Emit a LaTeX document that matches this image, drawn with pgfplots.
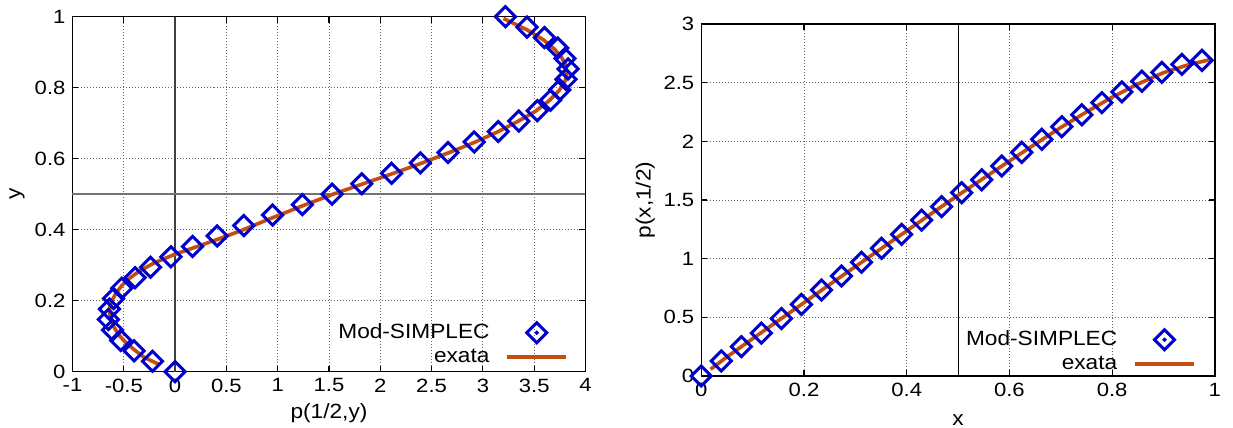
\documentclass[border=0pt]{standalone}
\usepackage{fontspec}
\setmainfont[FakeStretch=1.1]{Liberation Sans}
\newfontfamily\tickfont[FakeStretch=1.15]{Liberation Sans}
\usepackage{pgfplots}
\pgfplotsset{compat=1.18}
\definecolor{mblue}{RGB}{0,0,204}
\definecolor{morange}{RGB}{197,77,15}
\pgfplotsset{
  gpstyle/.style={
    scale only axis,
    font=\fontsize{10.3}{12}\selectfont,
    tick label style={font=\tickfont\fontsize{9.6}{11}\selectfont},
    /pgf/number format/assume math mode=true,
    grid=major,
    major grid style={black!60, dash pattern=on 0.5pt off 1pt, line width=0.45pt},
    axis line style={line width=0.75pt},
    tick style={black, line width=0.6pt},
    major tick length=3pt,
    clip=false,
    legend plot pos=right,
    legend cell align=right,
    legend style={draw=none, fill=none, inner sep=0pt, outer sep=0pt,
      font=\fontsize{10.3}{12}\selectfont,
      nodes={inner sep=0pt, outer sep=0pt, text height=8pt, text depth=2.5pt},
      /tikz/column sep=8pt, /tikz/row sep=1pt},
  },
  markstyle/.style={only marks, mblue, mark=square, mark size=3.55pt,
    mark options={rotate=45, line width=1.5pt, solid},
    legend image code/.code={
      \path (0pt,-3pt) (29.5pt,3pt);
      \draw[mblue, line width=1.5pt] (14.75pt,5pt) -- (19.75pt,0pt) -- (14.75pt,-5pt) -- (9.75pt,0pt) -- cycle;
      \fill[mblue] (14.75pt,0pt) circle (0.9pt);
    }},
  linestyle/.style={morange, line width=1.8pt, no marks,
    legend image code/.code={\draw[morange, line width=1.8pt] (0pt,0pt) -- (29.5pt,0pt);}},
}
\begin{document}
\begin{tikzpicture}
\path[use as bounding box] (0,0) rectangle (616.5pt,214pt);
% ---------------- left panel
\begin{axis}[gpstyle,
  at={(36.25pt,28.15pt)}, anchor=south west,
  width=256.5pt, height=177.5pt,
  xmin=-1, xmax=4, ymin=0, ymax=1,
  xtick={-1,-0.5,0,0.5,1,1.5,2,2.5,3,3.5,4},
  ytick={0,0.2,0.4,0.6,0.8,1},
  xlabel={p(1/2,y)}, ylabel={y},
  xlabel style={at={(axis description cs:0.5,0)}, anchor=base, yshift=-23.2pt},
  ylabel style={at={(axis description cs:0,0.5)}, anchor=center, yshift=27.75pt},
  legend style={at={(1,0)}, anchor=south east, xshift=-8.7pt, yshift=2.2pt},
]
\addplot[black!75, line width=0.6pt, forget plot] coordinates {(0,0) (0,1)};
\addplot[black!55, line width=0.9pt, forget plot] coordinates {(-1,0.5) (4,0.5)};
\addplot[markstyle] table {
x y
0.00 0.00000
-0.22 0.02941
-0.40 0.05882
-0.53 0.08824
-0.61 0.11765
-0.65 0.14706
-0.64 0.17647
-0.60 0.20588
-0.52 0.23529
-0.39 0.26471
-0.24 0.29412
-0.04 0.32353
0.17 0.35294
0.41 0.38235
0.67 0.41176
0.95 0.44118
1.24 0.47059
1.53 0.50000
1.82 0.52941
2.11 0.55882
2.39 0.58824
2.66 0.61765
2.915 0.64706
3.15 0.67647
3.35 0.70588
3.53 0.73529
3.66 0.76471
3.75 0.79412
3.81 0.82353
3.83 0.85294
3.80 0.88235
3.73 0.91176
3.60 0.94118
3.43 0.97059
3.22 1.00000
};
\addlegendentry{Mod-SIMPLEC}
\addplot[linestyle] table {
x y
-0.16 0.021
-0.30 0.040
-0.39 0.060
-0.48 0.082
-0.55 0.104
-0.60 0.128
-0.63 0.151
-0.64 0.175
-0.62 0.198
-0.575 0.222
-0.515 0.244
-0.44 0.264
-0.35 0.283
-0.20 0.307
0.00 0.331
0.19 0.350
0.415 0.373
0.64 0.397
0.90 0.428
1.24 0.467
1.53 0.499
1.82 0.528
2.11 0.557
2.39 0.586
2.66 0.616
2.91 0.645
3.14 0.675
3.34 0.705
3.51 0.733
3.64 0.762
3.74 0.791
3.80 0.818
3.82 0.840
3.81 0.862
3.77 0.884
3.70 0.908
3.59 0.935
3.43 0.963
3.20 0.995
};
\addlegendentry{exata}
\end{axis}
% ---------------- right panel
\begin{axis}[gpstyle,
  at={(350.65pt,26pt)}, anchor=south west,
  width=256.75pt, height=176pt,
  xmin=0, xmax=1, ymin=0, ymax=3,
  xtick={0,0.2,0.4,0.6,0.8,1},
  ytick={0,0.5,1,1.5,2,2.5,3},
  xlabel={x}, ylabel={p(x,1/2)},
  xlabel style={at={(axis description cs:0.5,0)}, anchor=base, yshift=-25pt},
  ylabel style={at={(axis description cs:0,0.5)}, anchor=center, yshift=28pt},
  legend style={at={(1,0)}, anchor=south east, xshift=-9.5pt, yshift=0.85pt},
]
\addplot[black, line width=0.5pt, forget plot] coordinates {(0.5,0) (0.5,3)};
\addplot[markstyle] table {
x y
0.000 0.000
0.039 0.128
0.078 0.250
0.117 0.366
0.156 0.490
0.195 0.610
0.234 0.733
0.273 0.852
0.312 0.969
0.351 1.088
0.390 1.207
0.429 1.328
0.468 1.443
0.507 1.562
0.546 1.672
0.585 1.790
0.624 1.906
0.663 2.017
0.702 2.125
0.741 2.226
0.780 2.330
0.819 2.422
0.858 2.512
0.897 2.588
0.936 2.656
0.975 2.690
};
\addlegendentry{Mod-SIMPLEC}
\addplot[linestyle] table {
x y
0.018 0.057
0.05 0.163
0.10 0.318
0.15 0.472
0.20 0.625
0.25 0.780
0.30 0.932
0.35 1.085
0.40 1.237
0.45 1.390
0.50 1.540
0.55 1.686
0.60 1.832
0.65 1.976
0.70 2.118
0.75 2.250
0.80 2.376
0.85 2.488
0.90 2.585
0.95 2.655
0.995 2.700
};
\addlegendentry{exata}
\end{axis}
\end{tikzpicture}
\end{document}
